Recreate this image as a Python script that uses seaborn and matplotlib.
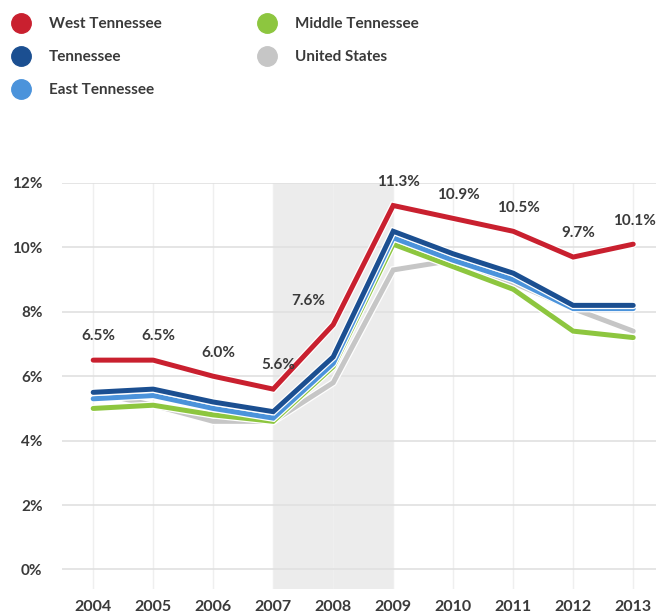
import pandas as pd
import matplotlib
matplotlib.use("Agg")
import matplotlib.pyplot as plt
import matplotlib.patheffects as pe
from matplotlib.lines import Line2D
import seaborn as sns

# Unemployment rates (%) by region
years = [2004, 2005, 2006, 2007, 2008, 2009, 2010, 2011, 2012, 2013]
west_tn = [6.5, 6.5, 6.0, 5.6, 7.6, 11.3, 10.9, 10.5, 9.7, 10.1]
tennessee = [5.5, 5.6, 5.2, 4.9, 6.6, 10.5, 9.8, 9.2, 8.2, 8.2]
east_tn = [5.3, 5.4, 5.0, 4.7, 6.4, 10.3, 9.6, 9.0, 8.1, 8.1]
middle_tn = [5.0, 5.1, 4.8, 4.6, 6.3, 10.1, 9.4, 8.7, 7.4, 7.2]
united_states = [5.5, 5.1, 4.6, 4.6, 5.8, 9.3, 9.6, 8.9, 8.1, 7.4]

legend_order = ["West Tennessee", "Tennessee", "East Tennessee",
                "Middle Tennessee", "United States"]
draw_order = ["United States", "Middle Tennessee", "East Tennessee",
              "Tennessee", "West Tennessee"]
colors = {
    "West Tennessee": "#c9202f",
    "Tennessee": "#1b4f91",
    "East Tennessee": "#4b93db",
    "Middle Tennessee": "#8dc63f",
    "United States": "#c6c6c6",
}

series = {
    "West Tennessee": west_tn,
    "Tennessee": tennessee,
    "East Tennessee": east_tn,
    "Middle Tennessee": middle_tn,
    "United States": united_states,
}
df = pd.concat(
    [pd.DataFrame({"year": years, "rate": v, "region": k}) for k, v in series.items()],
    ignore_index=True,
)

sns.set_theme(style="white")
plt.rcParams["font.family"] = ["Lato", "DejaVu Sans"]
text_color = "#3a3a3a"

fig = plt.figure(figsize=(6.56, 6.14), dpi=100)
ax = fig.add_axes([0.0945, 0.041, 0.9055, 0.661])

# recession shading
ax.axvspan(2007, 2009, color="#ececec", zorder=0, lw=0)

sns.lineplot(data=df, x="year", y="rate", hue="region", hue_order=draw_order,
             palette=colors, linewidth=3.6, legend=False, ax=ax, zorder=3)
for line in ax.get_lines():
    line.set_path_effects([pe.Stroke(linewidth=5.4, foreground="white"), pe.Normal()])
    line.set_solid_joinstyle("miter")

# labels above West Tennessee line
for yr, val in zip(years, west_tn):
    dx = -18 if yr == 2008 else (1 if yr == 2013 else 4)
    ax.annotate(f"{val:.1f}%", (yr, val), xytext=(dx, 12), textcoords="offset points",
                ha="center", va="bottom", fontsize=11, color=text_color,
                fontweight="bold", annotation_clip=False)

ax.set_xlim(2003.48, 2013.38)
ax.set_ylim(-0.6, 12)
ax.set_yticks(range(0, 13, 2))
ax.set_yticklabels([f"{t}%" for t in range(0, 13, 2)])
ax.set_xticks(years)
ax.set_xticklabels([str(y) for y in years])
ax.tick_params(axis="y", length=0, labelsize=11, colors=text_color, pad=14)
ax.tick_params(axis="x", length=0, labelsize=11.5, colors=text_color, pad=8)
for lbl in ax.get_xticklabels() + ax.get_yticklabels():
    lbl.set_fontweight("bold")
ax.set_xlabel("")
ax.set_ylabel("")
ax.grid(True, axis="y", color="#e0e0e0", linewidth=1.2)
ax.grid(True, axis="x", color="#efefef", linewidth=1.0)
ax.set_axisbelow(True)
for s in ax.spines.values():
    s.set_visible(False)

handles = [Line2D([], [], marker="o", linestyle="", markersize=14,
                  markerfacecolor=colors[k], markeredgecolor=colors[k])
           for k in legend_order]
leg = fig.legend(handles, legend_order, loc="upper left", bbox_to_anchor=(0.0, 0.992),
                 ncol=2, frameon=False, labelspacing=1.25, handletextpad=1.2,
                 handlelength=1.2, borderpad=0.3, columnspacing=6.3,
                 prop={"weight": "bold", "size": 11})
for t in leg.get_texts():
    t.set_color(text_color)

fig.savefig("out.png", dpi=100)
